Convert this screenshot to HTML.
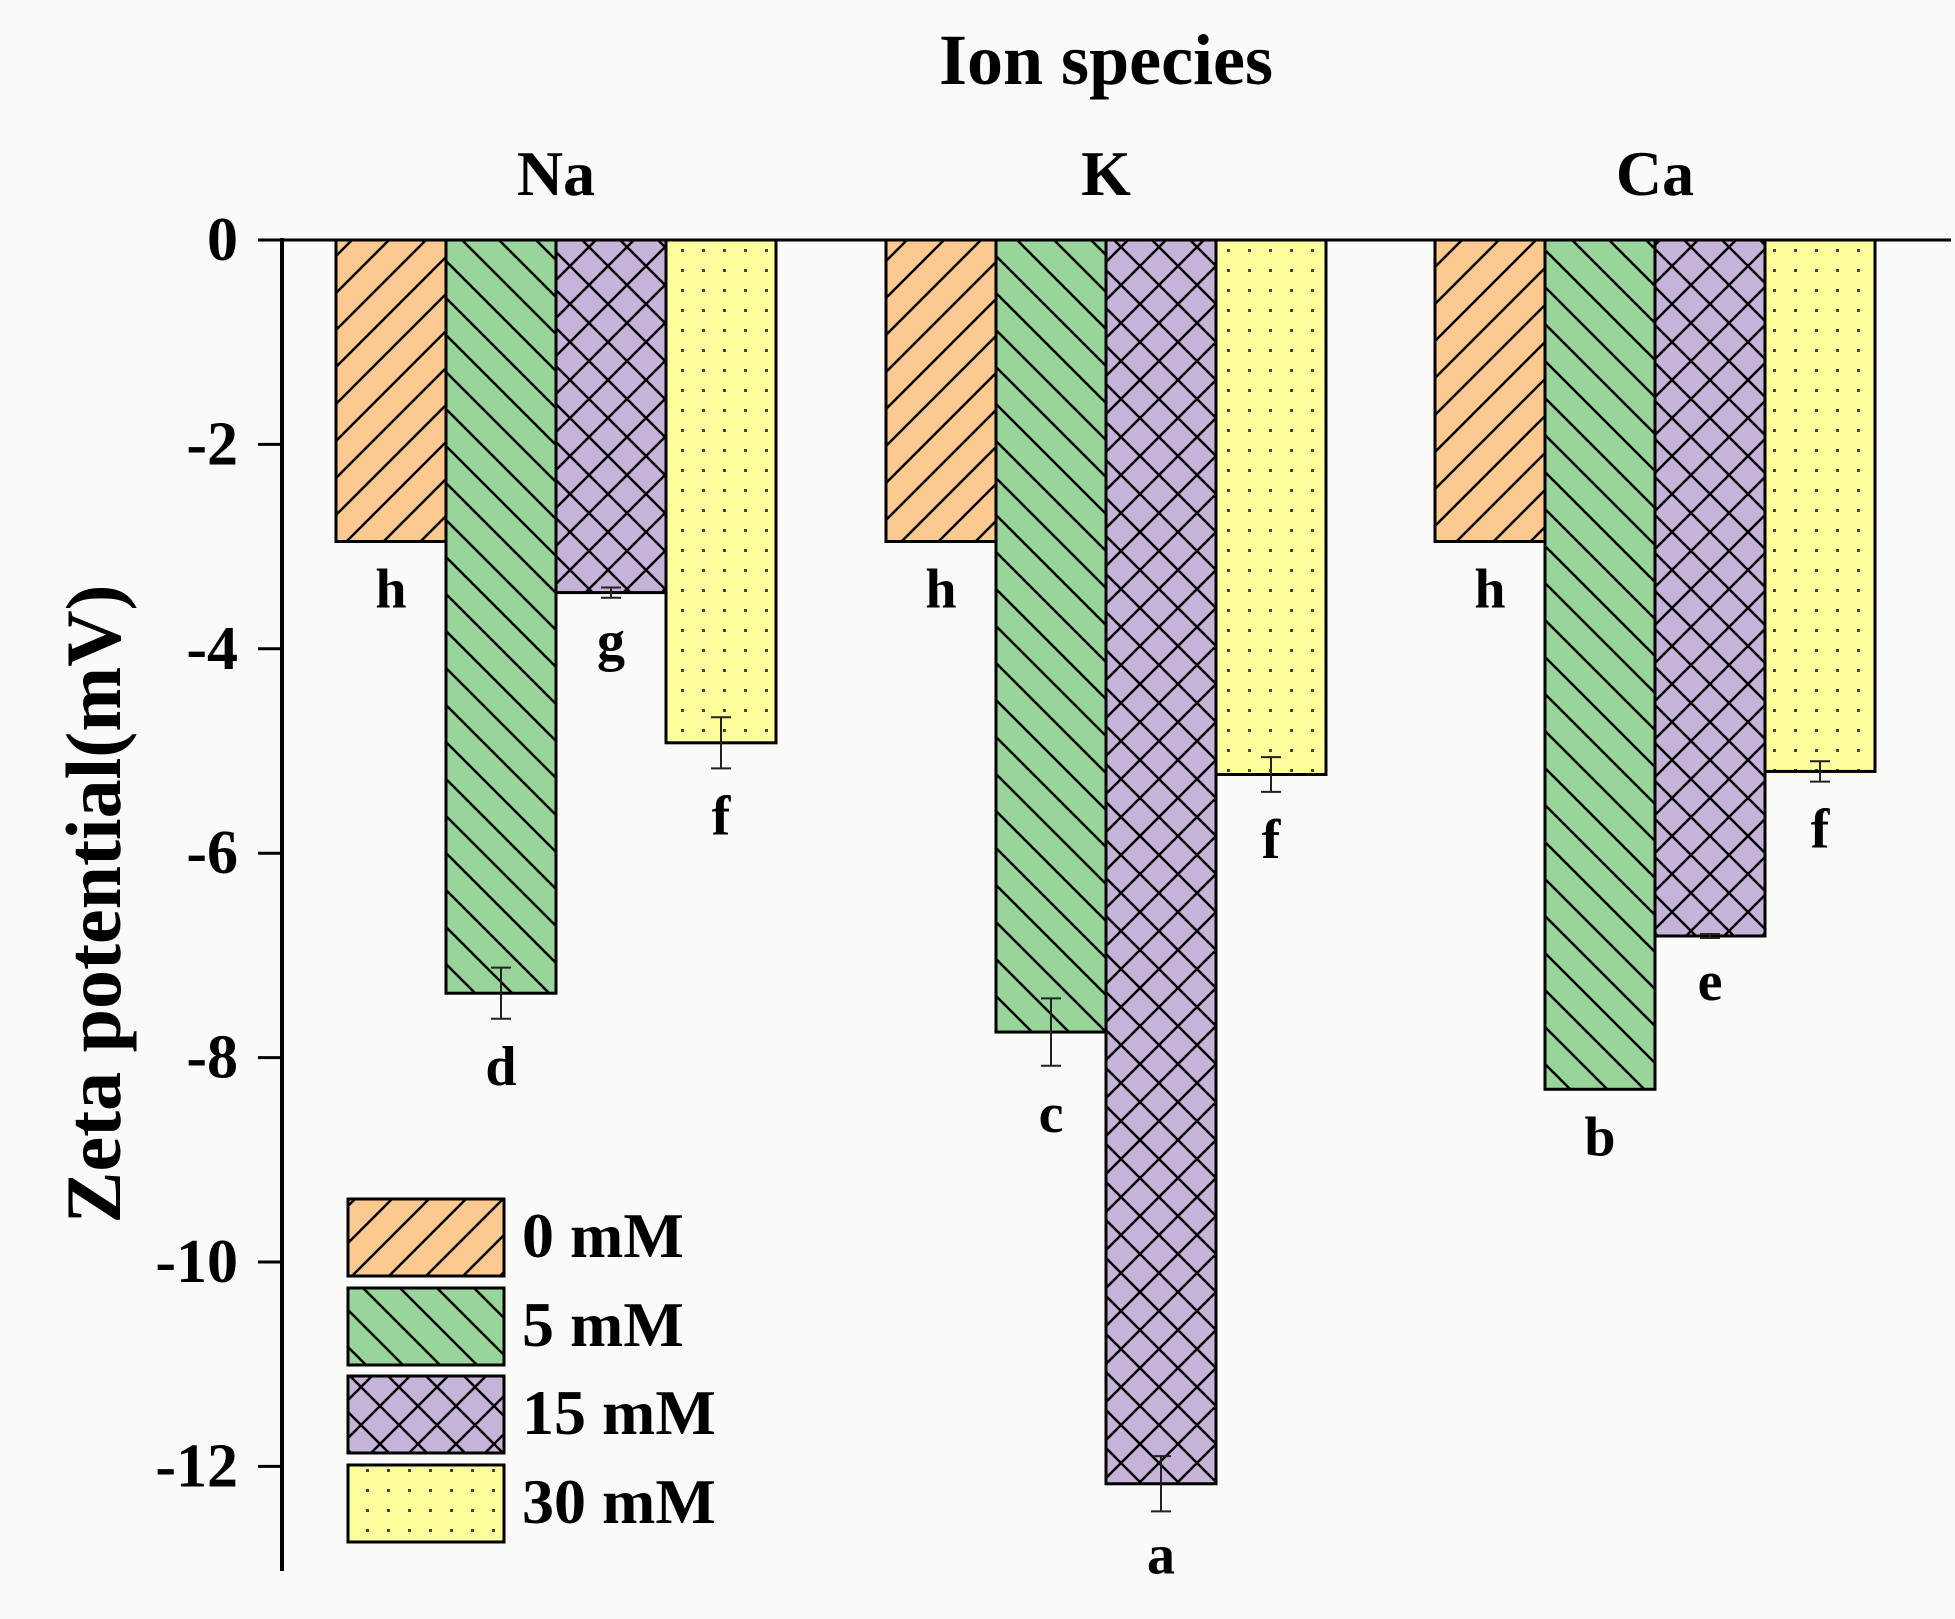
<!DOCTYPE html>
<html><head><meta charset="utf-8"><style>
html,body{margin:0;padding:0;background:#fafaf8;}
svg{display:block;}
text{font-family:"Liberation Serif",serif;font-weight:bold;fill:#000;}
</style></head><body>
<svg id="chart" width="1955" height="1619" viewBox="0 0 1955 1619">
<defs>
<pattern id="p0" patternUnits="userSpaceOnUse" width="37" height="37">
<rect width="37" height="37" fill="#fcc990"/>
<path d="M0,37 L37,0 M-10,10 L10,-10 M27,47 L47,27" stroke="#000" stroke-width="2.5"/>
</pattern>
<pattern id="p1" patternUnits="userSpaceOnUse" width="37" height="37">
<rect width="37" height="37" fill="#99d49a"/>
<path d="M0,0 L37,37 M-10,27 L10,47 M27,-10 L47,10" stroke="#000" stroke-width="2.5"/>
</pattern>
<pattern id="p2" patternUnits="userSpaceOnUse" width="38" height="38">
<rect width="38" height="38" fill="#c6b3d9"/>
<path d="M0,0 L38,38 M0,38 L38,0" stroke="#000" stroke-width="2.5"/>
</pattern>
<pattern id="p3" patternUnits="userSpaceOnUse" width="21" height="20">
<rect width="21" height="20" fill="#fdfd9c"/>
<rect x="9" y="9" width="3" height="3" fill="#444"/>
</pattern>
</defs>
<g id="plot"></g>
</svg>
<script>
const groups = ["Na","K","Ca"];
const seriesNames = ["0 mM","5 mM","15 mM","30 mM"];
const v0 = [-2.95,-2.95,-2.95];
const v5 = [-7.37,-7.75,-8.31];
const v15 = [-3.45,-12.17,-6.81];
const v30 = [-4.92,-5.23,-5.20];
const e0 = [0,0,0];
const e5 = [0.25,0.33,0];
const e15 = [0.05,0.27,0.02];
const e30 = [0.25,0.17,0.1];
const letters0 = ["h","h","h"];
const letters5 = ["d","c","b"];
const letters15 = ["g","a","e"];
const letters30 = ["f","f","f"];
const yTicks = [0,-2,-4,-6,-8,-10,-12];

const NS="http://www.w3.org/2000/svg";
const g=document.getElementById('plot');
const y=v=>240 - v*102.2;
const groupStart=[336,886,1435];
const barW=110;
const x=(gi,si)=>groupStart[gi]+si*barW;
function mk(tag,attrs,parent){const e=document.createElementNS(NS,tag);for(const k in attrs)e.setAttribute(k,attrs[k]);(parent||g).appendChild(e);return e;}

const vals=[v0,v5,v15,v30], errs=[e0,e5,e15,e30], lets=[letters0,letters5,letters15,letters30];
const letterOff=[66,66,62,66];
for(let gi=0;gi<groups.length;gi++){
  for(let si=0;si<4;si++){
    const v=vals[si][gi];
    const r=mk('rect',{x:x(gi,si),y:y(0),width:barW,height:y(v)-y(0),fill:'url(#p'+si+')',stroke:'#000','stroke-width':3});
    
    
    const cx=x(gi,si)+barW/2, er=errs[si][gi];
    if(er>0){
      const eb=mk('path',{d:`M${cx},${y(v+er)} L${cx},${y(v-er)} M${cx-10},${y(v+er)} L${cx+10},${y(v+er)} M${cx-10},${y(v-er)} L${cx+10},${y(v-er)}`,stroke:'#222','stroke-width':2,fill:'none'});
      
      
    }
    const t=mk('text',{x:cx,y:y(v-er)+letterOff[si],'text-anchor':'middle','font-size':56});
    t.textContent=lets[si][gi];
    
    
  }
  const gl=mk('text',{x:groupStart[gi]+2*barW,y:195,'text-anchor':'middle','font-size':64});
  gl.textContent=groups[gi];
  
  
}
const za=mk('line',{x1:258,y1:y(0),x2:1951,y2:y(0),stroke:'#000','stroke-width':3});


const ya=mk('line',{x1:282,y1:y(0)-2,x2:282,y2:1571,stroke:'#000','stroke-width':4});


yTicks.forEach(tv=>{
  const tk=mk('line',{x1:258,y1:y(tv),x2:282,y2:y(tv),stroke:'#000','stroke-width':3});
  
  
  const tl=mk('text',{x:238,y:y(tv)+20,'text-anchor':'end','font-size':62});
  tl.textContent=String(tv);
  
  
});
const tt=mk('text',{x:1106,y:84,'text-anchor':'middle','font-size':72});
tt.textContent='Ion species';


const yt=mk('text',{x:0,y:0,'text-anchor':'middle','font-size':78,transform:'translate(120,904) rotate(-90)'});
yt.textContent='Zeta potential(mV)';


const legY=[1199,1288,1376,1465];
for(let si=0;si<4;si++){
  const lr=mk('rect',{x:348,y:legY[si],width:156,height:77,fill:'url(#p'+si+')',stroke:'#000','stroke-width':3});
  
  
  const lt=mk('text',{x:522,y:legY[si]+58,'font-size':64});
  lt.textContent=seriesNames[si];
  
  
}
</script>
</body></html>
